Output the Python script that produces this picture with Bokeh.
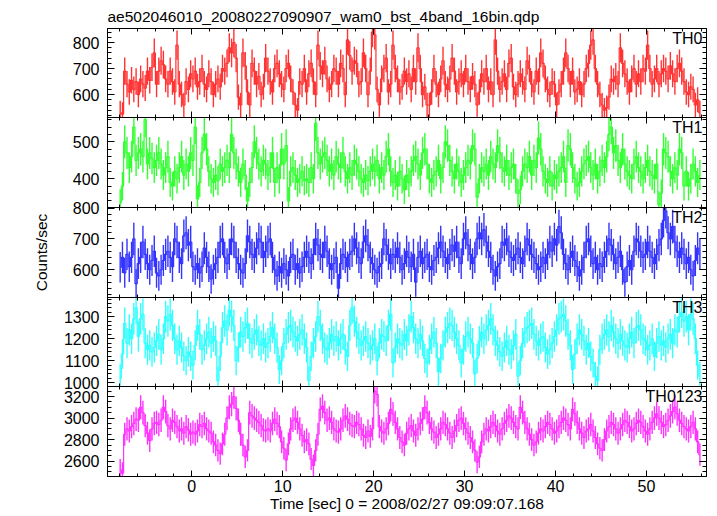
import numpy as np
from bokeh.plotting import figure
from bokeh.layouts import column
from bokeh.models import Range1d, LinearAxis, SingleIntervalTicker, Label
from bokeh.embed import file_html
from bokeh.resources import INLINE

# ---------------- data (count rates, 0.25 s bins starting at t = -8 s) ----------------
t_start = -8.0
bin_width = 0.25

th0 = [530, 525, 690, 640, 610, 655, 620, 650, 600, 660, 640, 625, 690, 655, 705, 760,
       640, 690, 730, 715, 660, 640, 690, 650, 610, 790, 640, 600, 560, 650, 620, 680,
       660, 690, 630, 650, 700, 640, 620, 680, 650, 600, 640, 660, 630, 700, 690, 720,
       780, 760, 800, 740, 590, 560, 760, 710, 610, 560, 720, 690, 640, 670, 600, 630,
       740, 690, 650, 610, 700, 720, 680, 640, 620, 700, 720, 660, 610, 560, 540, 650,
       640, 700, 610, 680, 720, 650, 600, 790, 710, 680, 730, 660, 620, 640, 700, 690,
       640, 720, 700, 600, 810, 750, 690, 730, 720, 640, 650, 760, 700, 600, 690, 840,
       830, 620, 560, 660, 700, 740, 610, 640, 790, 700, 660, 610, 630, 690, 650, 680,
       620, 700, 650, 780, 700, 600, 630, 560, 560, 610, 700, 640, 600, 660, 730, 640,
       620, 660, 740, 690, 610, 650, 680, 640, 700, 650, 620, 670, 640, 560, 610, 680,
       650, 700, 620, 650, 600, 810, 690, 620, 650, 680, 620, 720, 740, 630, 600, 640,
       680, 650, 620, 730, 700, 640, 610, 690, 650, 760, 720, 660, 620, 600, 650, 640,
       560, 610, 640, 690, 760, 700, 640, 690, 610, 620, 650, 600, 640, 700, 720, 790,
       810, 700, 640, 600, 560, 540, 550, 590, 660, 650, 670, 640, 780, 720, 680, 650,
       610, 660, 700, 640, 680, 650, 700, 690, 790, 700, 640, 660, 700, 640, 680, 700,
       690, 660, 710, 680, 650, 700, 720, 690, 650, 610, 600, 630, 620, 560, 580, 530]

th1 = [335, 380, 500, 470, 430, 460, 540, 450, 470, 480, 460, 560, 440, 470, 455, 430,
       450, 470, 440, 410, 430, 460, 390, 380, 420, 400, 430, 460, 410, 440, 420, 470,
       450, 540, 345, 390, 470, 520, 480, 420, 400, 390, 410, 395, 440, 420, 430, 450,
       430, 520, 470, 440, 420, 390, 440, 410, 340, 390, 430, 500, 470, 440, 420, 450,
       440, 410, 430, 470, 390, 430, 400, 480, 440, 490, 340, 420, 430, 410, 390, 400,
       420, 395, 400, 390, 430, 400, 550, 470, 440, 460, 470, 450, 420, 440, 410, 460,
       440, 430, 470, 420, 400, 430, 410, 450, 440, 420, 400, 390, 410, 395, 420, 440,
       420, 450, 400, 430, 410, 460, 480, 420, 390, 410, 380, 420, 400, 370, 410, 390,
       420, 450, 460, 440, 410, 470, 480, 440, 400, 390, 410, 420, 450, 400, 430, 500,
       490, 450, 420, 400, 440, 420, 390, 410, 430, 450, 440, 490, 480, 350, 400, 430,
       420, 440, 410, 460, 440, 430, 490, 470, 430, 420, 450, 410, 430, 440, 400, 360,
       370, 420, 440, 430, 460, 410, 450, 430, 510, 480, 420, 400, 390, 420, 380, 410,
       400, 420, 430, 460, 390, 490, 480, 430, 400, 380, 390, 420, 440, 450, 460, 430,
       410, 440, 400, 420, 450, 430, 460, 520, 540, 470, 490, 450, 430, 480, 440, 420,
       410, 400, 440, 460, 430, 420, 400, 430, 450, 420, 410, 400, 440, 330, 360, 480,
       470, 460, 420, 400, 430, 410, 480, 470, 380, 420, 380, 400, 440, 420, 390, 410]

th2 = [608, 640, 590, 650, 610, 640, 700, 555, 620, 640, 690, 650, 620, 600, 630, 660,
       590, 580, 600, 630, 650, 660, 640, 610, 700, 690, 640, 620, 710, 720, 680, 690,
       610, 600, 620, 590, 610, 670, 640, 610, 570, 600, 620, 640, 690, 700, 640, 620,
       650, 700, 690, 640, 620, 600, 590, 620, 710, 690, 650, 640, 670, 700, 690, 640,
       660, 690, 700, 640, 600, 580, 610, 590, 620, 600, 580, 640, 650, 600, 620, 590,
       610, 640, 660, 640, 620, 650, 700, 680, 650, 640, 690, 660, 620, 600, 620, 640,
       540, 620, 650, 640, 610, 650, 660, 700, 670, 640, 620, 690, 710, 680, 640, 620,
       600, 590, 610, 620, 700, 680, 650, 620, 650, 640, 670, 640, 600, 620, 660, 640,
       610, 650, 560, 640, 660, 620, 640, 650, 610, 600, 630, 640, 670, 690, 660, 640,
       620, 650, 680, 660, 690, 640, 620, 700, 720, 680, 650, 620, 640, 700, 720, 700,
       730, 690, 660, 640, 600, 580, 610, 620, 690, 680, 700, 660, 640, 630, 650, 670,
       640, 620, 660, 700, 680, 650, 640, 620, 600, 610, 640, 620, 650, 690, 660, 700,
       680, 740, 720, 650, 620, 600, 640, 660, 630, 610, 580, 600, 640, 690, 700, 660,
       620, 640, 600, 620, 610, 640, 660, 700, 680, 650, 620, 640, 660, 600, 560, 610,
       630, 600, 660, 700, 690, 660, 640, 650, 690, 660, 640, 620, 650, 680, 700, 760,
       790, 720, 700, 740, 690, 660, 640, 670, 650, 620, 640, 600, 580, 630, 670, 650]

th3 = [1020, 1130, 1270, 1180, 1240, 1200, 1290, 1340, 1210, 1290, 1310, 1180, 1150, 1170, 1140, 1160,
       1190, 1220, 1150, 1200, 1300, 1280, 1310, 1260, 1200, 1150, 1190, 1160, 1120, 1100, 1140, 1120,
       1080, 1170, 1260, 1220, 1150, 1170, 1200, 1230, 1180, 1210, 1190, 1010, 1120, 1250, 1280, 1240,
       1330, 1300, 1260, 1100, 1160, 1230, 1210, 1250, 1270, 1200, 1180, 1220, 1240, 1190, 1170, 1200,
       1160, 1180, 1210, 1250, 1200, 1160, 1060, 1100, 1180, 1220, 1250, 1260, 1230, 1210, 1190, 1220,
       1240, 1200, 1160, 1010, 1120, 1180, 1210, 1300, 1260, 1200, 1160, 1150, 1180, 1220, 1190, 1210,
       1170, 1200, 1220, 1150, 1120, 1260, 1340, 1280, 1230, 1200, 1170, 1190, 1210, 1180, 1150, 1170,
       1200, 1100, 1180, 1220, 1210, 1190, 1260, 1310, 1090, 1160, 1200, 1180, 1170, 1220, 1190, 1240,
       1300, 1250, 1200, 1180, 1220, 1190, 1110, 1090, 1150, 1200, 1230, 1180, 1050, 1110, 1170, 1230,
       1250, 1270, 1260, 1230, 1200, 1170, 1090, 1150, 1210, 1230, 1200, 1180, 1040, 1110, 1190, 1230,
       1200, 1240, 1260, 1290, 1240, 1190, 1170, 1140, 1120, 1160, 1190, 1150, 1130, 1170, 1220, 1030,
       1100, 1180, 1230, 1250, 1260, 1270, 1220, 1190, 1170, 1200, 1210, 1160, 1130, 1150, 1180, 1210,
       1240, 1290, 1300, 1310, 1280, 1220, 1170, 1060, 1130, 1200, 1240, 1220, 1190, 1150, 1180, 1120,
       1090, 1030, 1010, 1150, 1200, 1220, 1240, 1210, 1260, 1230, 1200, 1180, 1220, 1190, 1170, 1160,
       1200, 1230, 1180, 1250, 1260, 1240, 1200, 1190, 1150, 1170, 1200, 1120, 1180, 1210, 1170, 1190,
       1160, 1200, 1220, 1180, 1240, 1230, 1300, 1320, 1280, 1300, 1240, 1310, 1290, 1200, 1080, 1030]

th0123 = [2520, 2490, 2850, 2900, 2880, 2920, 2950, 2990, 2980, 3100, 3050, 2930, 2860, 2790, 2900, 2950,
          2960, 2940, 2980, 3100, 3060, 2930, 2900, 2980, 2960, 2920, 2880, 2900, 2860, 2920, 2890, 2850,
          2870, 2850, 2880, 2940, 2920, 2950, 2900, 2880, 2860, 2780, 2750, 2700, 2670, 2760, 2850, 3000,
          3100, 3130, 3200, 3090, 2980, 2850, 2750, 2640, 2700, 3050, 3020, 3000, 2980, 2960, 2930, 2890,
          2880, 2900, 2880, 2950, 2990, 2950, 2920, 2780, 2720, 2610, 2760, 2900, 2980, 3000, 2960, 2900,
          2840, 2780, 2800, 2760, 2620, 2560, 2700, 2850, 3080, 3110, 3050, 2980, 3000, 2960, 2900, 2880,
          2870, 2900, 2980, 3020, 2990, 2950, 2930, 2920, 2960, 2940, 2900, 2840, 2820, 2880, 2830, 2900,
          3250, 3220, 2920, 2880, 2860, 2900, 2950, 3080, 3040, 2960, 2900, 2820, 2780, 2750, 2860, 2900,
          2930, 2880, 2840, 2900, 2950, 2990, 3100, 3050, 2960, 2900, 2870, 2820, 2850, 2900, 2960, 2940,
          2900, 2860, 2820, 2880, 2930, 2980, 3000, 2950, 2900, 2860, 2820, 2780, 2700, 2590, 2640, 2780,
          2850, 2900, 2880, 2920, 2960, 2930, 2880, 2850, 2900, 2950, 2980, 3020, 3000, 2960, 2920, 2900,
          3100, 3050, 2960, 2900, 2850, 2800, 2750, 2780, 2860, 2900, 2880, 2920, 2960, 2940, 2900, 2860,
          2880, 2920, 2960, 3000, 2980, 2940, 2900, 3080, 3040, 2960, 2900, 2860, 2820, 2880, 2900, 2940,
          2880, 2820, 2760, 2720, 2700, 2800, 2880, 2920, 2960, 2940, 2900, 2860, 2900, 2940, 2980, 2960,
          2920, 2880, 2900, 2950, 2980, 2960, 2920, 2880, 2850, 2900, 2960, 3000, 3040, 3000, 2960, 2920,
          2940, 2980, 3020, 3060, 3100, 3040, 2980, 2950, 2920, 2900, 2880, 2920, 2960, 2900, 2780, 2660]

panel_names = ["TH0", "TH1", "TH2", "TH3", "TH0123"]
panel_rates = [th0, th1, th2, th3, th0123]
panel_colors = ["#ff3333", "#33ff33", "#3333ff", "#33ffff", "#ff33ff"]
panel_yranges = [(512, 854), (322, 566), (510, 802), (983, 1387), (2458, 3293)]
panel_ytick = [100, 100, 100, 100, 200]
panel_yminor = [5, 5, 5, 5, 4]
x_lo, x_hi = -9.27, 56.6

title_text = "ae502046010_20080227090907_wam0_bst_4band_16bin.qdp"
xlabel_text = "Time [sec] 0 = 2008/02/27 09:09:07.168"
ylabel_text = "Counts/sec"

FONT = "Liberation Sans"

frame_heights = [89, 90, 90, 89, 90]
tops = [28, 10, 10, 10, 10]
bottoms = [10, 10, 10, 10, 40]
overlap = 20


def style_axis(ax, labels):
    ax.axis_line_color = "black"
    ax.major_tick_line_color = "black"
    ax.minor_tick_line_color = "black"
    ax.major_tick_out = 0
    ax.minor_tick_out = 0
    if labels:
        ax.major_label_text_font = FONT
        ax.major_label_text_font_size = "16px"
        ax.major_label_text_color = "black"
    else:
        ax.major_label_text_font_size = "0px"
        ax.major_label_text_color = None
        ax.major_label_standoff = 0


figs = []
for i in range(5):
    rates = np.array(panel_rates[i], dtype=float)
    t = t_start + (np.arange(len(rates)) + 0.5) * bin_width
    err = np.sqrt(rates / bin_width)
    y0, y1 = panel_yranges[i]
    p = figure(width=712, height=tops[i] + frame_heights[i] + bottoms[i],
               x_range=Range1d(x_lo, x_hi), y_range=Range1d(y0, y1),
               x_axis_type=None, y_axis_type=None,
               output_backend="svg", toolbar_location=None,
               min_border_left=107, min_border_right=6,
               min_border_top=tops[i], min_border_bottom=bottoms[i],
               margin=(0 if i == 0 else -overlap, 0, 0, 0))
    p.outline_line_color = "black"
    p.background_fill_alpha = 0
    p.border_fill_alpha = 0

    col = panel_colors[i]
    p.segment(x0=t, y0=rates - err, x1=t, y1=rates + err, line_color=col, line_width=1.4)
    p.step(x=t, y=rates, mode="center", line_color=col, line_width=1.2)

    # axes with inward ticks on all four sides
    for side in ["below", "above"]:
        ax = LinearAxis(ticker=SingleIntervalTicker(interval=10, num_minor_ticks=5))
        style_axis(ax, labels=(side == "below" and i == 4))
        ax.major_tick_in = 6
        ax.minor_tick_in = 3
        if side == "below" and i == 4:
            ax.major_label_standoff = 3
            ax.axis_label = xlabel_text
            ax.axis_label_text_font = FONT
            ax.axis_label_text_font_size = "15.5px"
            ax.axis_label_text_font_style = "normal"
            ax.axis_label_text_color = "black"
            ax.axis_label_standoff = 0
        p.add_layout(ax, side)
    for side in ["left", "right"]:
        ax = LinearAxis(ticker=SingleIntervalTicker(interval=panel_ytick[i],
                                                    num_minor_ticks=panel_yminor[i]))
        style_axis(ax, labels=(side == "left"))
        ax.major_tick_in = 7
        ax.minor_tick_in = 4
        if side == "left":
            ax.major_label_standoff = 8
            if i == 2:
                ax.axis_label = ylabel_text
                ax.axis_label_text_font = FONT
                ax.axis_label_text_font_size = "15.5px"
                ax.axis_label_text_font_style = "normal"
                ax.axis_label_text_color = "black"
                ax.axis_label_standoff = 20
        p.add_layout(ax, side)

    p.add_layout(Label(x=x_hi, y=y1, x_offset=-4, y_offset=-1, text=panel_names[i],
                       text_align="right", text_baseline="top",
                       text_font=FONT, text_font_size="16px", text_color="black"))

    if i == 0:
        p.title.text = title_text
        p.title.text_font = FONT
        p.title.text_font_size = "15.5px"
        p.title.text_font_style = "normal"
        p.title.text_color = "black"
        p.title.align = "left"
        p.title.standoff = 7
    figs.append(p)

layout = column(*figs, spacing=0)
open("out.html", "w").write(file_html(layout, INLINE))
